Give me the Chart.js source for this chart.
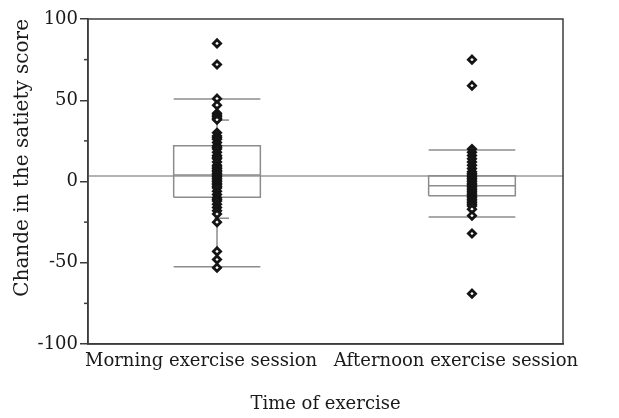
<!DOCTYPE html>
<html>
<head>
<meta charset="utf-8">
<script src="https://cdn.jsdelivr.net/npm/chart.js@4/dist/chart.umd.min.js"></script>
<style>
  html, body { margin: 0; padding: 0; background: #fff; }
  #wrap { width: 619px; height: 418px; }
</style>
</head>
<body>
<div id="wrap"><canvas id="boxChart"></canvas></div>
<script>
// categories and y ticks
const categories = ['Morning exercise session', 'Afternoon exercise session']
const yMajorTicks = [-100, -50, 0, 50, 100]
const yMinorTicks = [-75, -25, 25, 75]
const referenceValue = 3.4

// box summaries, one entry per category
const q1Values = [-9.7, -8.7]
const medianValues = [4, -2.6]
const q3Values = [22, 3.5]
const rangeLow = [-52.4, -21.8]
const rangeHigh = [50.8, 19.4]
const innerLow = [-22.6, null]
const innerHigh = [37.8, null]

// individual scores
const morningScores = [85, 72, 51, 47, 42, 41, 40, 39, 38, 30, 28, 27, 26, 24, 22,
  21, 20, 18, 16, 15, 14, 12, 10, 9, 8, 7, 6, 5, 4, 3, 2, 1, 0, -1, -2, -3, -4,
  -6, -8, -10, -11, -12, -14, -16, -18, -20, -25, -43, -48, -53]
const afternoonScores = [75, 59, 20, 18, 16, 14, 12, 10, 8, 6, 5, 4, 3, 2, 1, 0,
  -1, -2, -3, -4, -5, -6, -7, -8, -9, -10, -11, -12, -13, -14, -15, -17, -21,
  -32, -69]

const xMin = 0.494
const xMax = 2.357
const halfBox = 0.17
const serif = '"DejaVu Serif", serif'
const frameColor = '#3c3c3c'
const boxColor = '#8c8c8c'
const textColor = '#1a1a1a'

const datasets = []

// reference line across the whole plot
datasets.push({
  type: 'line',
  data: [{ x: xMin, y: referenceValue }, { x: xMax, y: referenceValue }],
  borderColor: '#9a9a9a',
  borderWidth: 1.5,
  pointRadius: 0,
  order: 5
})

categories.forEach((cat, i) => {
  const c = i + 1
  const seg = (y, x0, x1) => ({
    type: 'line',
    data: [{ x: x0, y: y }, { x: x1, y: y }],
    borderColor: boxColor,
    borderWidth: 1.5,
    pointRadius: 0,
    order: 4
  })
  // whisker stem
  datasets.push({
    type: 'line',
    data: [{ x: c, y: rangeLow[i] }, { x: c, y: rangeHigh[i] }],
    borderColor: boxColor,
    borderWidth: 1.5,
    pointRadius: 0,
    order: 4
  })
  // box
  datasets.push({
    type: 'line',
    data: [
      { x: c - halfBox, y: q1Values[i] },
      { x: c + halfBox, y: q1Values[i] },
      { x: c + halfBox, y: q3Values[i] },
      { x: c - halfBox, y: q3Values[i] },
      { x: c - halfBox, y: q1Values[i] }
    ],
    borderColor: boxColor,
    borderWidth: 1.5,
    pointRadius: 0,
    order: 4
  })
  datasets.push(seg(medianValues[i], c - halfBox, c + halfBox))
  datasets.push(seg(rangeLow[i], c - halfBox, c + halfBox))
  datasets.push(seg(rangeHigh[i], c - halfBox, c + halfBox))
  if (innerLow[i] !== null) datasets.push(seg(innerLow[i], c - 0.01, c + 0.047))
  if (innerHigh[i] !== null) datasets.push(seg(innerHigh[i], c - 0.01, c + 0.047))
})

// the scores themselves
;[morningScores, afternoonScores].forEach((scores, i) => {
  datasets.push({
    type: 'scatter',
    data: scores.map(v => ({ x: i + 1, y: v })),
    pointStyle: 'rectRot',
    pointRadius: 3.6,
    pointBorderWidth: 2.8,
    pointBorderColor: '#141414',
    pointBackgroundColor: '#ffffff',
    order: 1
  })
})

// frame round the plot + short minor ticks on the y axis
const framePlugin = {
  id: 'frame',
  afterDraw(chart) {
    const { ctx, chartArea: a, scales } = chart
    ctx.save()
    ctx.strokeStyle = frameColor
    ctx.lineWidth = 1.5
    ctx.strokeRect(a.left, a.top, a.right - a.left, a.bottom - a.top)
    yMinorTicks.forEach(v => {
      const py = scales.y.getPixelForValue(v)
      ctx.beginPath()
      ctx.moveTo(a.left - 4, py)
      ctx.lineTo(a.left, py)
      ctx.stroke()
    })
    ctx.restore()
  }
}

new Chart(document.getElementById('boxChart'), {
  type: 'scatter',
  data: { datasets },
  plugins: [framePlugin],
  options: {
    responsive: true,
    maintainAspectRatio: false,
    animation: false,
    layout: { padding: { top: 19, right: 56, left: 0, bottom: 0 } },
    plugins: { legend: { display: false }, tooltip: { enabled: false } },
    scales: {
      x: {
        type: 'linear',
        min: xMin,
        max: xMax,
        afterFit: s => { s.height = 74 },
        afterBuildTicks: s => { s.ticks = categories.map((_, i) => ({ value: i + 1 })) },
        grid: { drawOnChartArea: false, drawTicks: false },
        border: { color: frameColor, width: 1.5 },
        ticks: {
          callback: v => categories[v - 1] || '',
          color: textColor,
          font: { family: serif, size: 18 },
          padding: 7,
          labelOffset: -16,
          maxRotation: 0,
          autoSkip: false
        },
        title: {
          display: true,
          text: 'Time of exercise',
          color: textColor,
          font: { family: serif, size: 18 },
          padding: { top: 0, bottom: 3 }
        }
      },
      y: {
        min: -100,
        max: 100,
        afterFit: s => { s.width = 88 },
        afterBuildTicks: s => { s.ticks = yMajorTicks.map(v => ({ value: v })) },
        grid: { drawOnChartArea: false, drawTicks: true, tickLength: 8, color: frameColor, lineWidth: 1.5 },
        border: { color: frameColor, width: 1.5 },
        ticks: {
          color: textColor,
          font: { family: serif, size: 18 },
          padding: 2
        },
        title: {
          display: true,
          text: 'Chande in the satiety score',
          align: 'end',
          color: textColor,
          font: { family: serif, size: 20 },
          padding: { top: 11, bottom: 0 }
        }
      }
    }
  }
})
</script>
</body>
</html>
